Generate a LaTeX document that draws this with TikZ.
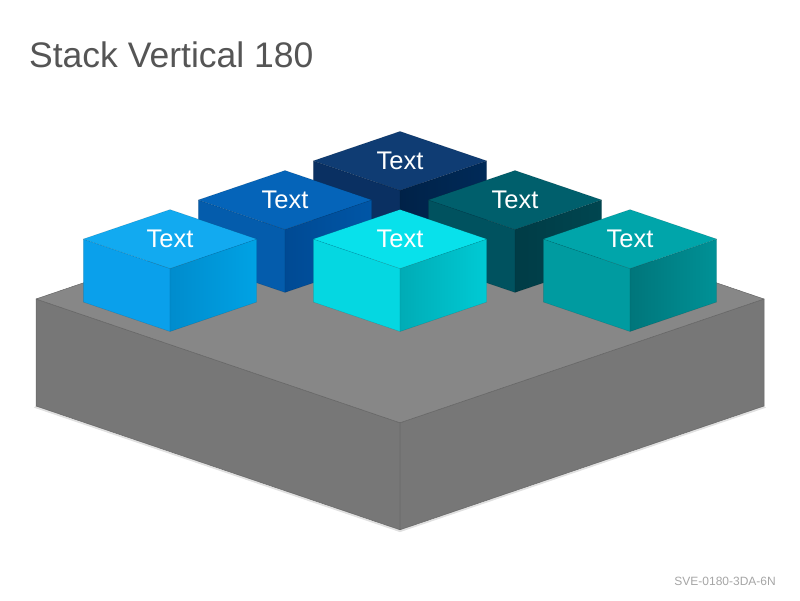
\documentclass[tikz,border=0pt]{standalone}
\usepackage{fontspec}
\setmainfont{Liberation Sans}
\definecolor{titlegray}{RGB}{85,85,85}
\definecolor{codegray}{RGB}{165,165,165}
\definecolor{slabtop}{RGB}{135,135,135}
\definecolor{slabside}{RGB}{119,119,119}
\definecolor{navytop}{RGB}{15,60,115}
\definecolor{navyleft}{RGB}{10,48,98}
\definecolor{navyright}{RGB}{0,34,72}
\definecolor{navyrightlt}{RGB}{0,42,88}
\definecolor{bluetop}{RGB}{5,100,185}
\definecolor{blueleft}{RGB}{4,92,172}
\definecolor{blueright}{RGB}{0,74,148}
\definecolor{bluerightlt}{RGB}{0,86,166}
\definecolor{tealdktop}{RGB}{0,95,108}
\definecolor{tealdkleft}{RGB}{0,82,95}
\definecolor{tealdkright}{RGB}{0,60,70}
\definecolor{tealdkrightlt}{RGB}{0,70,80}
\definecolor{ltbluetop}{RGB}{18,170,240}
\definecolor{ltblueleft}{RGB}{10,160,235}
\definecolor{ltblueright}{RGB}{0,140,205}
\definecolor{ltbluerightlt}{RGB}{0,162,228}
\definecolor{cyantop}{RGB}{8,225,235}
\definecolor{cyanleft}{RGB}{5,215,225}
\definecolor{cyanright}{RGB}{0,172,182}
\definecolor{cyanrightlt}{RGB}{0,202,212}
\definecolor{tealtop}{RGB}{0,165,170}
\definecolor{tealleft}{RGB}{0,155,160}
\definecolor{tealright}{RGB}{0,118,123}
\definecolor{tealrightlt}{RGB}{0,145,150}
\begin{document}
\begin{tikzpicture}[x=1pt,y=1pt,
    slab/.style={draw=black!60,line width=0.5pt,line join=round},
    side/.style={draw=black,draw opacity=0.15,line width=0.4pt,line join=round},
    lbl/.style={text=white,font=\fontsize{25.5}{30}\selectfont,inner sep=0pt}
  ]
  \useasboundingbox (0,0) rectangle (800,600);
  \node[anchor=base west,inner sep=0pt,text=titlegray,font=\fontsize{35.5}{42}\selectfont] (title) at (29,532) {Stack Vertical 180};
  \node[anchor=base east,inner sep=0pt,text=codegray,font=\fontsize{12}{14}\selectfont] (code) at (776,15) {SVE-0180-3DA-6N};
  \begin{scope}[shift={(400,301)},x={(1pt,-0.34pt)},y={(-1pt,-0.34pt)},z={(0pt,1pt)}]
    % base slab
    \fill[black!12] (-182,184,-108) -- (184,184,-108) -- (184,-182,-108) -- (182,-182,-107) -- (182,182,-107) -- (-182,182,-107) -- cycle;
    \draw[slab,fill=slabside] (-182,182,0) -- (182,182,0) -- (182,182,-107) -- (-182,182,-107) -- cycle;
    \draw[slab,fill=slabside] (182,182,0) -- (182,-182,0) -- (182,-182,-107) -- (182,182,-107) -- cycle;
    \draw[slab,fill=slabtop] (-182,-182,0) -- (182,-182,0) -- (182,182,0) -- (-182,182,0) -- cycle;
    % cubes, back to front
    \foreach \u/\v/\c in {-110.5/-110.5/navy,-110.5/4.5/blue,4.5/-110.5/tealdk,-110.5/119.5/ltblue,4.5/4.5/cyan,119.5/-110.5/teal}{
      \begin{scope}[shift={(\u,\v,0)}]
        \draw[side,fill=\c left] (-43.35,43.35,0) -- (43.35,43.35,0) -- (43.35,43.35,63) -- (-43.35,43.35,63) -- cycle;
        \draw[side,left color=\c right,right color=\c rightlt] (43.35,43.35,0) -- (43.35,-43.35,0) -- (43.35,-43.35,63) -- (43.35,43.35,63) -- cycle;
        \draw[side,fill=\c top] (-43.35,-43.35,63) -- (43.35,-43.35,63) -- (43.35,43.35,63) -- (-43.35,43.35,63) -- cycle;
        \node[lbl] (\c) at (0,0,63) {Text};
      \end{scope}
    }
  \end{scope}
\end{tikzpicture}
\end{document}
